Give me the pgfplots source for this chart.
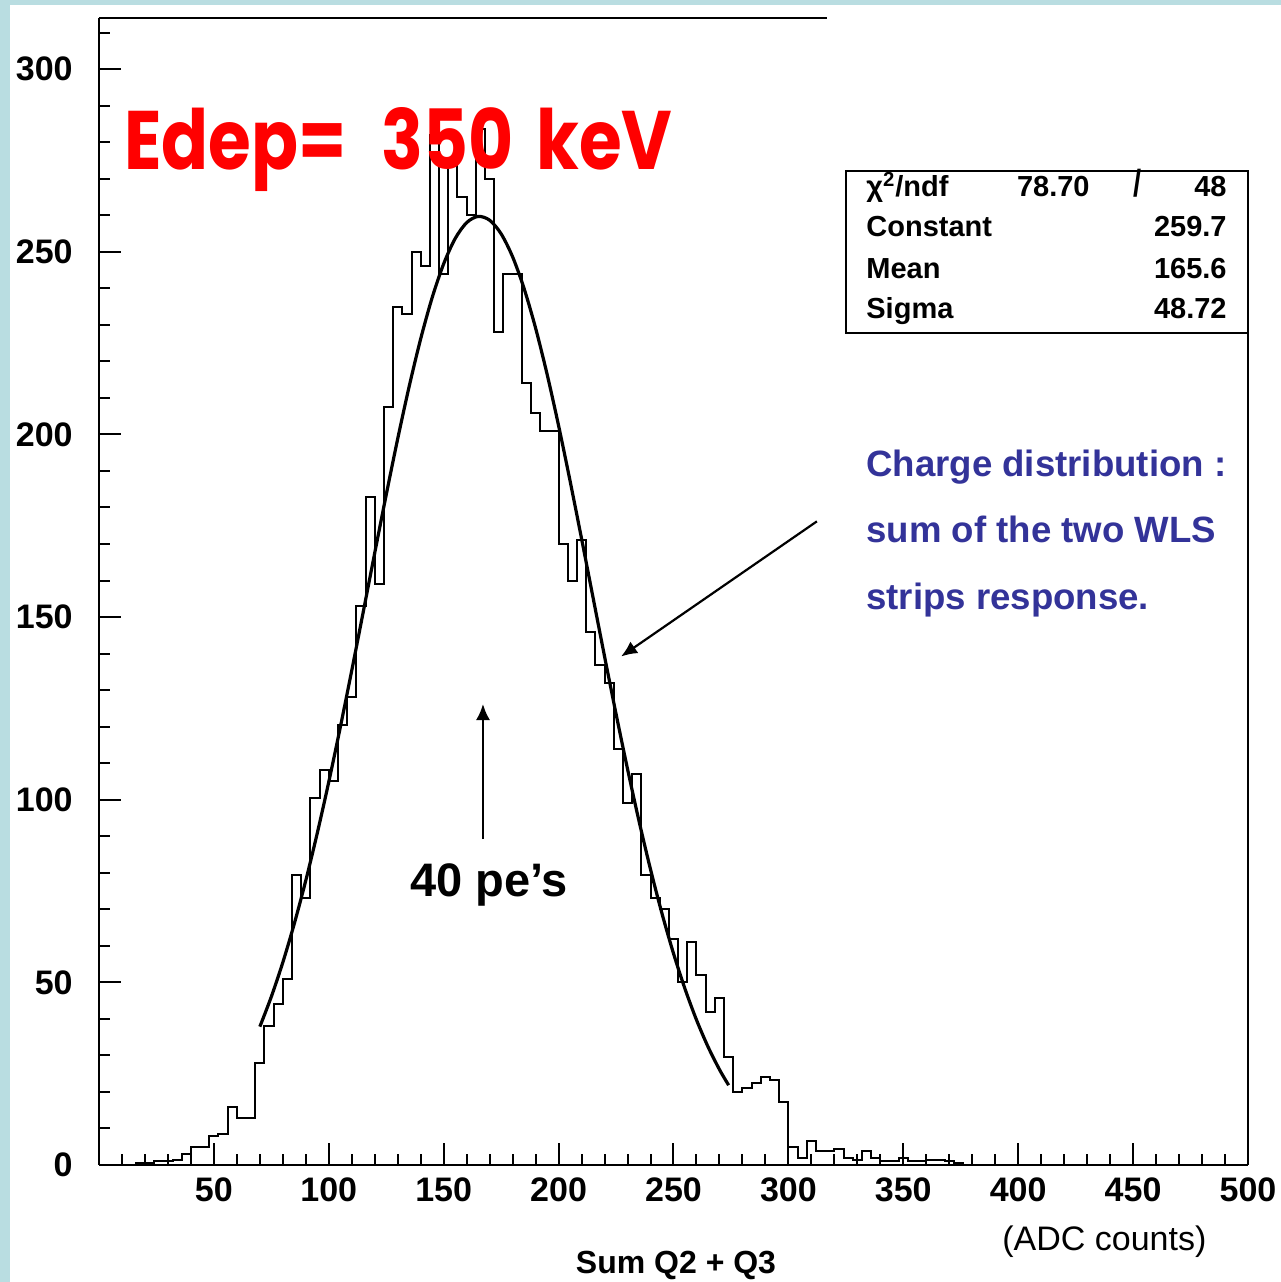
\documentclass[border=0pt]{standalone}
\usepackage{fontspec}
\setmainfont{Liberation Sans}
\newfontfamily\edepfont{Poppins}
\usepackage{pgfplots}
\usepackage{graphicx}
\pgfplotsset{compat=1.18}
\usetikzlibrary{arrows.meta}

\definecolor{slideblue}{HTML}{B9DDE1}
\definecolor{notecol}{HTML}{333399}
\definecolor{edepred}{HTML}{FF0000}

% Charge histogram: left bin edge (ADC counts), entries per 4-count bin
\pgfplotstableread{
x y
0 0
4 0
8 0
12 0
16 0.5
20 0.5
24 1
28 1
32 1.5
36 3
40 5
44 5
48 8
52 8.5
56 16
60 13
64 13
68 28
72 38
76 44
80 51
84 79.5
88 73
92 100.5
96 108
100 105
104 120.5
108 128
112 153
116 183
120 159
124 207.5
128 235
132 233
136 250
140 246
144 282
148 244
152 273.5
156 265
160 260
164 283.5
168 270
172 228
176 244
180 244
184 214
188 206
192 201
196 201
200 170
204 160
208 171
212 146
216 137
220 132
224 114
228 99
232 107
236 79.5
240 73
244 70
248 62
252 50
256 61
260 52
264 42
268 45.6
272 29.6
276 20
280 21
284 22.4
288 24
292 23.3
296 17.3
300 5
304 2
308 6.6
312 3.7
316 3.7
320 4.5
324 2
328 1.5
332 3.7
336 2
340 1
344 1
348 2
352 1
356 1
360 1.5
364 1.5
368 1
372 0.5
376 0
380 0
500 0
}\histdata

% Gaussian fit (Constant 259.7, Mean 165.6, Sigma 48.72), tabulated
\pgfplotstableread{
x y
70 37.87
75 46.09
80 55.48
85 66.10
90 77.92
95 90.89
100 104.90
105 119.81
110 135.41
115 151.44
120 167.59
125 183.52
130 198.85
135 213.20
140 226.20
145 237.49
150 246.72
155 253.63
160 257.99
165 259.68
170 258.64
175 254.91
180 248.60
185 239.91
190 229.09
195 216.47
200 202.40
205 187.26
210 171.44
215 155.32
220 139.23
225 123.50
230 108.41
235 94.15
240 80.93
245 68.83
250 57.92
255 48.23
260 39.74
265 32.40
270 26.14
274 21.85
}\fitdata

\begin{document}
\begin{tikzpicture}
\path[use as bounding box] (0,0) rectangle (640.5pt,641pt);
\fill[white] (0,0) rectangle (640.5pt,641pt);
\fill[slideblue] (0,0) rectangle (5pt,641pt);
\fill[slideblue] (0,638.5pt) rectangle (640.5pt,641pt);

\begin{axis}[
  at={(49.5pt,58.5pt)}, anchor=south west,
  scale only axis, width=574.5pt, height=573.5pt,
  xmin=0, xmax=500, ymin=0, ymax=314,
  clip=false,
  axis lines*=left,
  axis line style={black, line width=1.2pt},
  tick align=inside,
  xtick={50,100,...,500}, ytick={0,50,...,300},
  minor xtick={10,20,...,490}, minor ytick={10,20,...,310},
  major tick length=11pt, minor tick length=5.5pt,
  every tick/.style={black, line width=1pt},
  /pgf/number format/assume math mode=true,
  ticklabel style={font=\fontsize{17}{17}\selectfont\bfseries},
  xticklabel style={anchor=north, yshift=-6pt, inner sep=0pt},
  yticklabel style={anchor=east, xshift=-13pt, inner sep=0pt},
]
% frame pieces
\draw[line width=1.2pt] (axis cs:0,314) -- (axis cs:317,314);
\draw[line width=1.2pt] (axis cs:500,0) -- (axis cs:500,272);

\addplot[const plot, black, line width=1pt] table[x=x, y=y] {\histdata};
\addplot[black, line width=1.6pt, smooth] table[x=x, y=y] {\fitdata};

% fit statistics box
\draw[black, line width=1pt, fill=white] (axis cs:325.1,227.9) rectangle (axis cs:500,272.1);

% annotation arrows
\draw[-{Latex[length=8pt,width=7pt]}, line width=1.1pt] (axis cs:167.1,89.2) -- (axis cs:167.1,126.2);
\draw[-{Latex[length=8pt,width=7pt]}, line width=1.1pt] (axis cs:312.4,176.2) -- (axis cs:227.2,139.2);
\end{axis}

% statistics text
\begin{scope}[every node/.style={inner sep=0pt, font=\fontsize{14.5}{14.5}\selectfont\bfseries}]
\node[anchor=base west] at (433pt,542.5pt) {χ\textsuperscript{2}/ndf};
\node[anchor=base east] at (545pt,542.5pt) {78.70};
\node[anchor=base] at (569pt,542.5pt) {\scalebox{1}[1.3]{/}};
\node[anchor=base east] at (613.5pt,542.5pt) {48};
\node[anchor=base west] at (433pt,522.5pt) {Constant};
\node[anchor=base east] at (613.5pt,522.5pt) {259.7};
\node[anchor=base west] at (433pt,501.5pt) {Mean};
\node[anchor=base east] at (613.5pt,501.5pt) {165.6};
\node[anchor=base west] at (433pt,481.5pt) {Sigma};
\node[anchor=base east] at (613.5pt,481.5pt) {48.72};
\end{scope}

% title
\node[anchor=base west, inner sep=0pt, text=edepred] at (62pt,556pt)
  {\resizebox{274pt}{31pt}{\edepfont\bfseries Edep=\hspace{0.5em}350\hspace{0.12em} keV}};

% notes
\begin{scope}[every node/.style={inner sep=0pt, anchor=base west, text=notecol, font=\fontsize{18.3}{18.3}\selectfont\bfseries}]
\node at (433pt,402.5pt) {Charge distribution :};
\node at (433pt,369.5pt) {sum of the two WLS};
\node at (433pt,336pt) {strips response.};
\end{scope}
\node[anchor=base west, inner sep=0pt, font=\fontsize{23.5}{23.5}\selectfont\bfseries] at (205pt,192.5pt) {40 pe’s};

% axis titles
\node[anchor=base west, inner sep=0pt, font=\fontsize{17}{17}\selectfont] at (501pt,16pt) {(ADC counts)};
\node[anchor=base, inner sep=0pt, font=\fontsize{16}{16}\selectfont\bfseries] at (338pt,4.5pt) {Sum Q2 + Q3};
\end{tikzpicture}
\end{document}
